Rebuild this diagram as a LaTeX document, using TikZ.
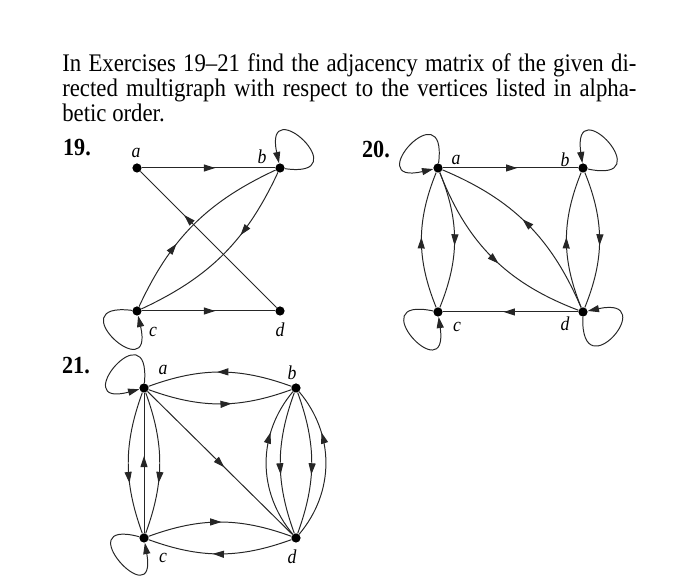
\documentclass[tikz,border=0pt]{standalone}
\usepackage{fontspec}
\setmainfont{Liberation Serif}[FakeStretch=0.9]
\usetikzlibrary{arrows.meta,decorations.markings}
\tikzset{
  vtx/.style={circle,fill=black,inner sep=0pt,minimum size=0.23cm},
  vlbl/.style={font=\fontsize{14}{15}\selectfont\itshape,inner sep=0pt},
  exnum/.style={font=\fontsize{17.5}{18}\selectfont\bfseries,inner sep=0pt},
  edg/.style={line width=0.7pt,black!85},
  loopedge/.style={edg,-{Triangle[length=8pt,width=5pt]},min distance=1.9cm},
  midarrow/.style={postaction={decorate},decoration={markings,
    mark=at position #1 with {\arrow{Triangle[length=8pt,width=5pt]}}}},
  midarrow/.default=0.55,
}

\begin{document}
\begin{tikzpicture}[x=0.025cm,y=0.025cm]
  \useasboundingbox (0,0) rectangle (700,576);
  \node[anchor=base west,inner sep=0pt,text width=14.35cm,align=justify,
        font=\fontsize{18}{17.75}\selectfont] (intro) at (62,504)
    {In Exercises 19--21 find the adjacency matrix of the given di-\linebreak
     rected multigraph with respect to the vertices listed in alpha-\linebreak
     betic order.};

  % exercise 19
  \node[exnum] (n19) at (77,428) {19.};
  \node[vtx] (a19) at (137,408) {};
  \node[vtx] (b19) at (280,408) {};
  \node[vtx] (c19) at (137,265) {};
  \node[vtx] (d19) at (280,265) {};
  \node[vlbl] (la19) at (136,423) {a};
  \node[vlbl] (lb19) at (262,419) {b};
  \node[vlbl] (lc19) at (153,244) {c};
  \node[vlbl] (ld19) at (280,246) {d};
  \draw[edg,midarrow=0.55] (a19) -- (b19);
  \draw[edg,midarrow=0.68] (d19) -- (a19);
  \draw[edg,midarrow=0.55] (c19) -- (d19);
  \draw[edg,midarrow=0.37] (c19) to[bend left=20] (b19);
  \draw[edg,midarrow=0.37] (b19) to[bend left=20] (c19);
  \draw[loopedge] (b19) to[out=-8,in=102] (b19);
  \draw[loopedge] (c19) to[out=173,in=283] (c19);

  % exercise 20
  \node[exnum] (n20) at (376,426) {20.};
  \node[vtx] (a20) at (438,408) {};
  \node[vtx] (b20) at (583,408) {};
  \node[vtx] (c20) at (438,264) {};
  \node[vtx] (d20) at (583,264) {};
  \node[vlbl] (la20) at (456,416) {a};
  \node[vlbl] (lb20) at (565,416) {b};
  \node[vlbl] (lc20) at (457,249) {c};
  \node[vlbl] (ld20) at (565,252) {d};
  \draw[edg,midarrow=0.55] (a20) -- (b20);
  \draw[edg,midarrow=0.55] (d20) -- (c20);
  \draw[edg,midarrow=0.52] (c20) to[bend left=22] (a20);
  \draw[edg,midarrow=0.54] (a20) to[bend left=22] (c20);
  \draw[edg,midarrow=0.52] (d20) to[bend left=22] (b20);
  \draw[edg,midarrow=0.54] (b20) to[bend left=22] (d20);
  \draw[edg,midarrow=0.54] (a20) to[bend right=24] (d20);
  \draw[edg,midarrow=0.53] (d20) to[bend right=22] (a20);
  \draw[loopedge] (a20) to[out=83,in=193] (a20);
  \draw[loopedge] (b20) to[out=-12,in=98] (b20);
  \draw[loopedge] (c20) to[out=168,in=278] (c20);
  \draw[loopedge] (d20) to[out=-92,in=12] (d20);

  % exercise 21
  \node[exnum] (n21) at (76,210) {21.};
  \node[vtx] (a21) at (144,188) {};
  \node[vtx] (b21) at (296,188) {};
  \node[vtx] (c21) at (144,38) {};
  \node[vtx] (d21) at (296,38) {};
  \node[vlbl] (la21) at (163,206) {a};
  \node[vlbl] (lb21) at (292,203) {b};
  \node[vlbl] (lc21) at (163,18) {c};
  \node[vlbl] (ld21) at (292,19) {d};
  \draw[edg,midarrow=0.52] (b21) to[bend right=20] (a21);
  \draw[edg,midarrow=0.58] (a21) to[bend right=20] (b21);
  \draw[edg,midarrow=0.51] (c21) to[bend left=20] (d21);
  \draw[edg,midarrow=0.55] (d21) to[bend left=20] (c21);
  \draw[edg,midarrow=0.53] (a21) -- (d21);
  \draw[edg,midarrow=0.64] (a21) to[bend right=20] (c21);
  \draw[edg,midarrow=0.55] (c21) -- (a21);
  \draw[edg,midarrow=0.64] (a21) to[bend left=20] (c21);
  \draw[edg,midarrow=0.7] (d21) to[bend left=40] (b21);
  \draw[edg,midarrow=0.58] (b21) to[bend right=20] (d21);
  \draw[edg,midarrow=0.58] (b21) to[bend left=20] (d21);
  \draw[edg,midarrow=0.7] (d21) to[bend right=40] (b21);
  \draw[loopedge] (a21) to[out=85,in=195] (a21);
  \draw[loopedge] (c21) to[out=165,in=280] (c21);
\end{tikzpicture}
\end{document}
